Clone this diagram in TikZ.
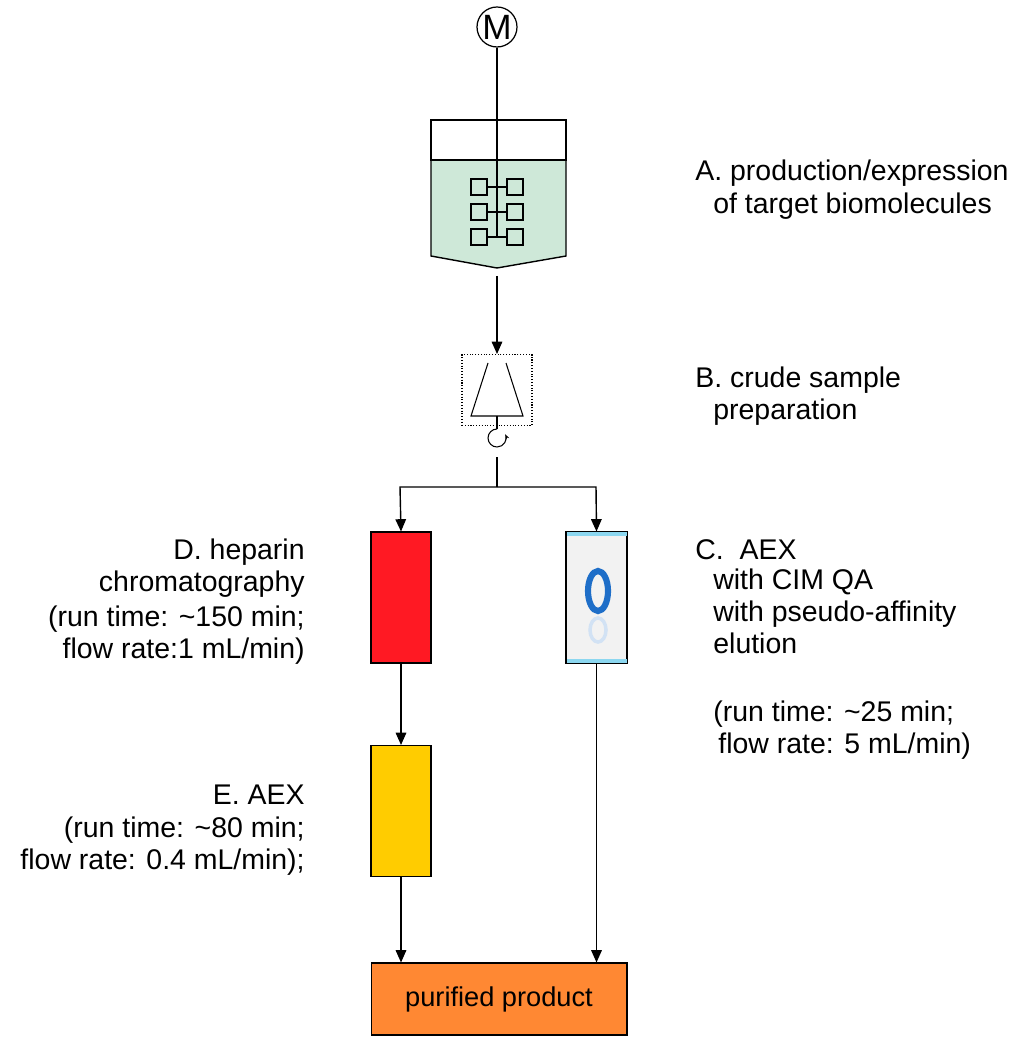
\documentclass[tikz,border=0pt]{standalone}
\usepackage{fontspec}
\setmainfont{Liberation Sans}
\usetikzlibrary{arrows.meta}
\begin{document}
\begin{tikzpicture}[x=0.02cm,y=-0.02cm,
  lbl/.style={inner sep=0pt,font=\fontsize{16.2}{19}\selectfont},
  lt/.style={lbl,anchor=base west},
  rt/.style={lbl,anchor=base east},
  flow/.style={line width=0.8pt,-{Triangle[length=7pt,width=6pt]}},
  imp/.style={draw,line width=0.7pt,inner sep=0pt,minimum width=0.32cm,minimum height=0.32cm},
  col/.style={draw,line width=0.6pt,minimum width=1.2cm,minimum height=2.62cm,inner sep=0pt}]
\useasboundingbox (0,0) rectangle (1024,1053);
\definecolor{liquid}{RGB}{206,232,216}
\definecolor{hred}{RGB}{255,25,35}
\definecolor{aexy}{RGB}{255,204,0}
\definecolor{prod}{RGB}{255,136,51}
\definecolor{cimblue}{RGB}{30,110,200}
\definecolor{stripe}{RGB}{140,215,240}
% motor
\node[draw,circle,line width=0.7pt,minimum size=0.8cm,inner sep=0pt,font=\fontsize{20}{20}\selectfont] (m) at (497,27) {M};
% vessel
\fill[liquid] (431,160) -- (566,160) -- (566,256) -- (497,268) -- (431,256) -- cycle;
\draw[line width=0.8pt] (431,120) rectangle (566,160);
\draw[line width=0.8pt] (431,160) -- (431,256) -- (497,268) -- (566,256) -- (566,160);
\coordinate (hub) at (497,237);
\draw[line width=0.8pt] (m) -- (hub);
\foreach \y [count=\i] in {187,212,237}{
  \node[imp] (l\i) at (479,\y) {};
  \node[imp] (r\i) at (515,\y) {};
  \draw[line width=0.7pt] (l\i) -- (r\i);
}
% centrifuge
\coordinate (v1) at (497,276);
\node[draw,densely dotted,line width=0.6pt,minimum width=1.4cm,minimum height=1.42cm,inner sep=0pt] (cf) at (497,390) {};
\draw[flow] (v1) -- (cf.north);
\draw[line width=0.6pt] (488,363) -- (471,416) -- (523,416) -- (506,363);
\coordinate (rot) at (497,438);
\draw[line width=0.6pt] (497,416) -- (497,429);
\draw[line width=0.6pt,-{Stealth[length=3pt]}] (rot) ++(90:0.18cm) arc[start angle=90,end angle=385,radius=0.18cm];
% split
\coordinate (s0) at (497,457);
\coordinate (s1) at (497,487);
\coordinate (sl) at (400,487);
\coordinate (sr) at (596,487);
\node[col,fill=hred] (d) at (401,597.5) {};
\node[col,fill=black!5] (c) at (596.5,597.5) {};
\fill[stripe] (c.north west) rectangle ([yshift=-0.1cm]c.north east);
\fill[stripe] ([yshift=0.1cm]c.south west) rectangle (c.south east);
\draw[line width=0.6pt] (c.north west) rectangle (c.south east);
\draw[cimblue,line width=3.5pt] (598,591) ellipse[x radius=10,y radius=20];
\draw[cimblue!20,line width=2pt] (598,630) ellipse[x radius=8,y radius=12];
\draw[line width=0.8pt] (s0) -- (s1);
\draw[flow] (s1) -- (sl) -- (d.north);
\draw[flow] (s1) -- (sr) -- (c.north);
% AEX column
\node[col,fill=aexy] (e) at (401,811) {};
\draw[flow] (d.south) -- (e.north);
% product
\node[draw,line width=0.6pt,fill=prod,minimum width=5.12cm,minimum height=1.44cm,inner sep=0pt,font=\fontsize{15.5}{18}\selectfont] (p) at (499,999) {purified product};
\draw[flow] (e.south) -- (e.south |- p.north);
\draw[flow] (c.south) -- (c.south |- p.north);
% labels
\node[lt] (ta1) at (695,181) {A. production/expression};
\node[lt] (ta2) at (713,214) {of target biomolecules};
\node[lt] (tb1) at (695,388) {B. crude sample};
\node[lt] (tb2) at (713,419) {preparation};
\node[lt] (tc1) at (695,559) {C.\ \ AEX};
\node[lt] (tc2) at (713,589) {with CIM QA};
\node[lt] (tc3) at (713,621) {with pseudo-affinity};
\node[lt] (tc4) at (713,653) {elution};
\node[lt] (tc5) at (713,721) {(run time: \textasciitilde25 min;};
\node[lt] (tc6) at (718,753) {flow rate: 5 mL/min)};
\node[rt] (td1) at (305,559) {D. heparin};
\node[rt] (td2) at (305,591) {chromatography};
\node[rt] (td3) at (305,626) {(run time: \textasciitilde150 min;};
\node[rt] (td4) at (305,658) {flow rate:1 mL/min)};
\node[rt] (te1) at (305,804) {E. AEX};
\node[rt] (te2) at (305,837) {(run time: \textasciitilde80 min;};
\node[rt] (te3) at (305,869) {flow rate: 0.4 mL/min);};
\end{tikzpicture}
\end{document}
